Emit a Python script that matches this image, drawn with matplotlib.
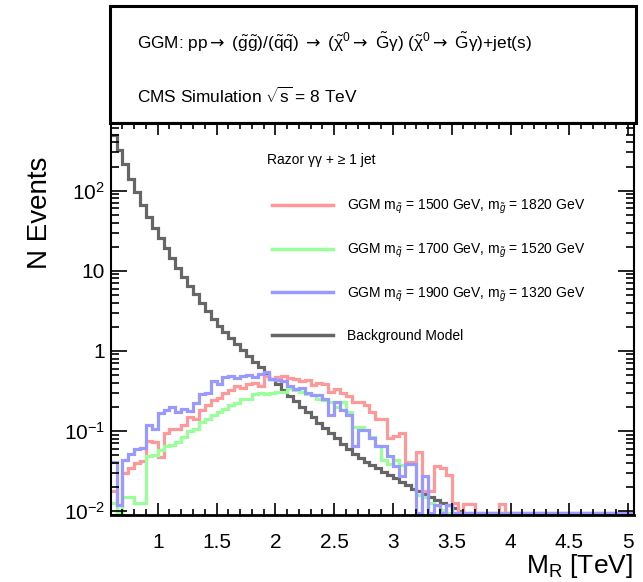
import numpy as np
import matplotlib
matplotlib.use("Agg")
import matplotlib.pyplot as plt
from matplotlib.patches import Rectangle
from matplotlib.ticker import FixedLocator, MultipleLocator, LogLocator, NullFormatter

plt.rcParams['font.family'] = ['Liberation Sans', 'DejaVu Sans']
plt.rcParams['mathtext.fontset'] = 'custom'
plt.rcParams['mathtext.rm'] = 'Liberation Sans'
plt.rcParams['mathtext.it'] = 'Liberation Sans:italic'
plt.rcParams['mathtext.bf'] = 'Liberation Sans:bold'
plt.rcParams['mathtext.sf'] = 'DejaVu Sans'

# Data (bins of 0.05 TeV starting at 0.6 TeV)
# ===================================
MR_LOW = 0.6
BIN_WIDTH = 0.05
N_BINS = 89

background = [494, 321, 213, 138, 97, 66, 47, 34, 25.4, 19, 14.3, 10.7, 8.4, 6.5,
              5.1, 4.0, 3.1, 2.5, 2.05, 1.70, 1.43, 1.20, 1.01, 0.85, 0.72, 0.62,
              0.52, 0.45, 0.38, 0.32, 0.275, 0.234, 0.20, 0.174, 0.148, 0.126,
              0.11, 0.093, 0.081, 0.069, 0.060, 0.052, 0.046, 0.041, 0.037,
              0.034, 0.031, 0.028, 0.026, 0.023, 0.021, 0.019, 0.018, 0.0165,
              0.015, 0.0138, 0.0126, 0.0117, 0.0108, 0.0100]

sig_1500_1820 = [0.018, 0, 0.030, 0.034, 0.040, 0.042, 0.075, 0.072, 0.047, 0.095,
                 0.105, 0.105, 0.12, 0.15, 0.14, 0.18, 0.21, 0.24, 0.26, 0.30,
                 0.32, 0.36, 0.34, 0.38, 0.40, 0.36, 0.48, 0.44, 0.47, 0.48,
                 0.46, 0.44, 0.42, 0.43, 0.37, 0.40, 0.39, 0.31, 0.33, 0.30,
                 0.27, 0.23, 0.23, 0.21, 0.17, 0.14, 0.14, 0.081, 0.086, 0.095,
                 0.041, 0.041, 0.055, 0.018, 0.018, 0.036, 0.034, 0.028, 0.0125, 0,
                 0.0123, 0.0123, 0, 0, 0, 0, 0.0123]

sig_1700_1520 = [0.0126, 0.0098, 0.015, 0.015, 0.0126, 0.0126, 0.048, 0.050, 0.058, 0.064,
                 0.066, 0.072, 0.085, 0.10, 0.105, 0.13, 0.14, 0.16, 0.17, 0.19,
                 0.21, 0.22, 0.25, 0.25, 0.29, 0.30, 0.29, 0.30, 0.31, 0.31,
                 0.34, 0.32, 0.31, 0.29, 0.28, 0.25, 0.24, 0.23, 0.20, 0.23,
                 0.17, 0.113, 0.113, 0.103, 0.085, 0.064, 0.043, 0.039, 0.043, 0.038,
                 0.039, 0.039, 0.016, 0.015, 0.0125, 0.012, 0.0104]

sig_1900_1320 = [0.041, 0.0118, 0.043, 0.052, 0.059, 0.062, 0.119, 0.105, 0.165, 0.18,
                 0.20, 0.17, 0.19, 0.175, 0.22, 0.29, 0.30, 0.42, 0.38, 0.47,
                 0.48, 0.46, 0.48, 0.50, 0.47, 0.52, 0.54, 0.45, 0.43, 0.42,
                 0.36, 0.33, 0.34, 0.30, 0.28, 0.28, 0.25, 0.158, 0.232, 0.182,
                 0.158, 0.064, 0.103, 0.103, 0.081, 0.064, 0.064, 0.048, 0.036, 0.027,
                 0.039, 0.039, 0, 0.027, 0, 0.0119, 0, 0.0119]

series = [
    (sig_1500_1820, "#ff9999", r"GGM m$_{\tilde{q}}$ = 1500 GeV, m$_{\tilde{g}}$ = 1820 GeV"),
    (sig_1700_1520, "#99ff99", r"GGM m$_{\tilde{q}}$ = 1700 GeV, m$_{\tilde{g}}$ = 1520 GeV"),
    (sig_1900_1320, "#9999ff", r"GGM m$_{\tilde{q}}$ = 1900 GeV, m$_{\tilde{g}}$ = 1320 GeV"),
    (background, "#666666", "Background Model"),
]

x_ticks = [1, 1.5, 2, 2.5, 3, 3.5, 4, 4.5, 5]
x_labels = ["1", "1.5", "2", "2.5", "3", "3.5", "4", "4.5", "5"]
y_ticks = [1e-2, 1e-1, 1, 10, 100]
y_labels = [r"10$^{-2}$", r"10$^{-1}$", "1", "10", r"10$^{2}$"]

X_MIN, X_MAX = 0.6, 5.05
Y_MIN, Y_MAX = 0.0089, 700

# Figure
# ===================================
W, H = 643, 582
fig = plt.figure(figsize=(W / 100, H / 100), dpi=100)
ax_l, ax_r, ax_t, ax_b = 110.7, 634, 123, 515
ax = fig.add_axes([ax_l / W, 1 - ax_b / H, (ax_r - ax_l) / W, (ax_b - ax_t) / H])

edges = MR_LOW + BIN_WIDTH * np.arange(N_BINS + 1)
floor = Y_MIN * 1.05
handles = {}
for idx in [3, 0, 1, 2]:
    vals, color, label = series[idx]
    v = np.zeros(N_BINS)
    v[:len(vals)] = vals
    v = np.where(v > floor, v, floor)
    handles[idx] = ax.stairs(v, edges, color=color, lw=2.3, baseline=None, label=label)

ax.set_yscale("log")
ax.set_xlim(X_MIN, X_MAX)
ax.set_ylim(Y_MIN, Y_MAX)

ax.xaxis.set_major_locator(FixedLocator(x_ticks))
ax.set_xticklabels(x_labels)
ax.xaxis.set_minor_locator(MultipleLocator(0.1))
ax.yaxis.set_major_locator(FixedLocator(y_ticks))
ax.set_yticklabels(y_labels)
ax.yaxis.set_minor_locator(LogLocator(base=10, subs=np.arange(2, 10)))
ax.yaxis.set_minor_formatter(NullFormatter())

ax.tick_params(axis="both", which="both", direction="in", top=True, right=True,
               labelsize=15, width=1.2)
ax.tick_params(axis="x", which="major", length=8.5, pad=13)
ax.tick_params(axis="x", which="minor", length=4.3)
ax.tick_params(axis="y", which="major", length=11.3, pad=4)
ax.tick_params(axis="y", which="minor", length=5.6)
for s in ax.spines.values():
    s.set_linewidth(1.5)
ax.spines["bottom"].set_linewidth(2.0)

# Axis titles
fig.text(633 / W, 1 - 573 / H, r"M$_{\mathrm{R}}$ [TeV]", ha="right", va="baseline", fontsize=19)
fig.text(40 / W, 1 - 157 / H, "N Events", rotation=90, ha="center", va="top", fontsize=20)

# Legend
fig.text(267 / W, 1 - 160 / H, "Razor γγ + ≥ 1 jet", ha="left", va="center", fontsize=10)
leg = ax.legend([handles[i] for i in range(4)], [s[2] for s in series],
                loc="upper left", bbox_to_anchor=(272 / W, 1 - 198 / H),
                bbox_transform=fig.transFigure, frameon=False, fontsize=10,
                handlelength=4.4, handletextpad=1.0, labelspacing=1.83,
                borderpad=0, borderaxespad=0)
for line in leg.get_lines():
    line.set_linewidth(2.5)

# Top box
box = Rectangle((109.5 / W, 1 - 123 / H), (635.5 - 109.5) / W, (123 - 6.5) / H,
                transform=fig.transFigure, fill=False, lw=2.2, ec="black")
fig.add_artist(box)
arrow = r"$\mathsf{\rightarrow}$"
fig.text(137 / W, 1 - 49 / H,
         r"GGM: pp" + arrow + r" ($\tilde{\mathrm{g}}\tilde{\mathrm{g}}$)/($\tilde{\mathrm{q}}\tilde{\mathrm{q}}$) "
         + arrow + r" ($\tilde{\mathrm{\chi}}^{0}$" + arrow + r" $\tilde{\mathrm{G}}$γ) "
         r"($\tilde{\mathrm{\chi}}^{0}$" + arrow + r" $\tilde{\mathrm{G}}$γ)+jet(s)",
         ha="left", va="baseline", fontsize=12.4)
fig.text(137 / W, 1 - 103 / H, r"CMS Simulation $\sqrt{\mathrm{s}}$ = 8 TeV",
         ha="left", va="baseline", fontsize=12.4)

fig.savefig("out.png", dpi=100)
